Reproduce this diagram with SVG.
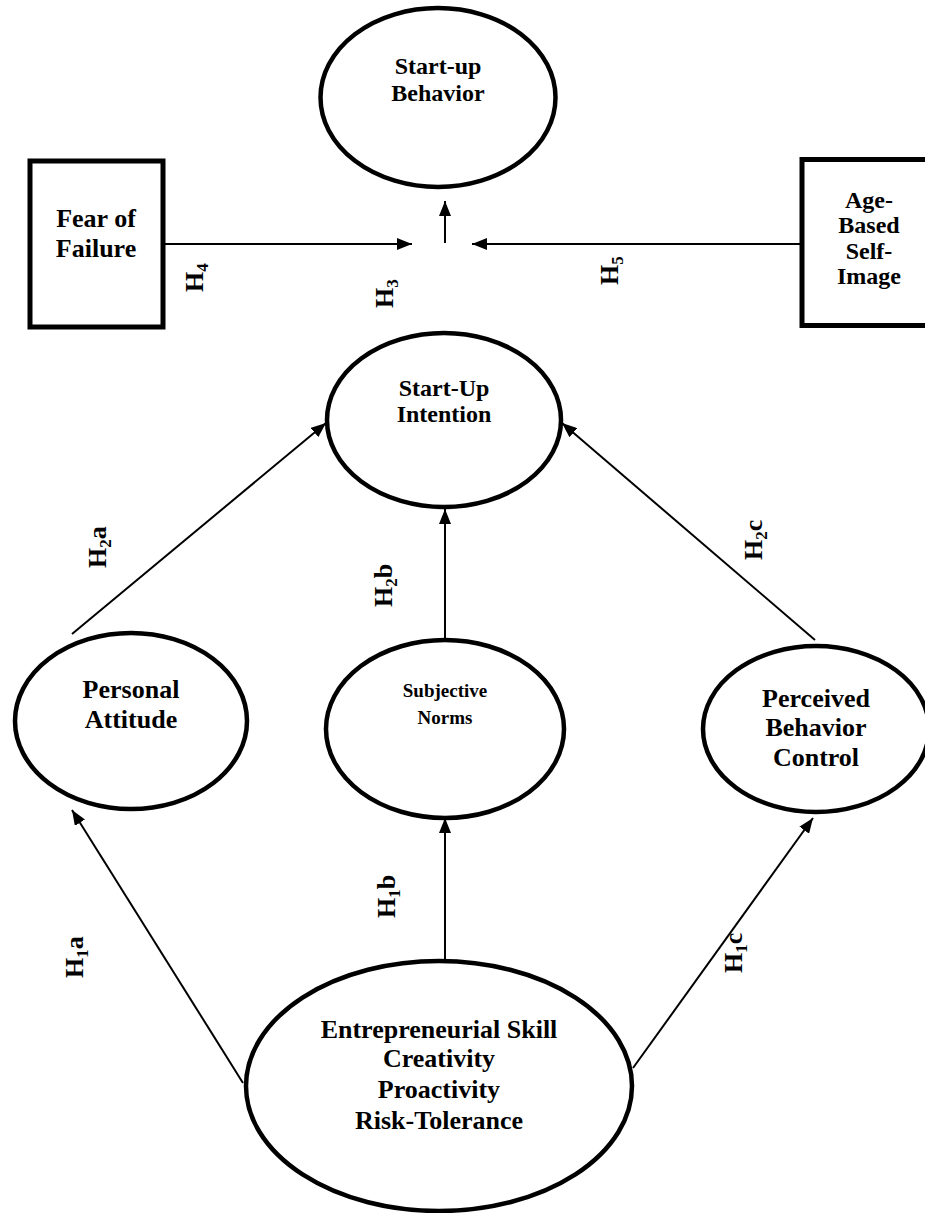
<svg xmlns="http://www.w3.org/2000/svg" width="925" height="1213" viewBox="0 0 925 1213">
<style>
.n{fill:#fff;stroke:#000;stroke-width:4.5}
.b{fill:#fff;stroke:#000;stroke-width:5}
.t{font-family:"Liberation Serif","Times New Roman",serif;font-weight:bold;fill:#000;text-anchor:middle}
.t24{font-size:24px}
.t26{font-size:26px}
.t19{font-size:19px}
.c{stroke:#000;stroke-width:2;fill:none;marker-end:url(#ah)}
.h{font-family:"Liberation Serif","Times New Roman",serif;font-weight:bold;font-size:26px;fill:#000}
.s{font-size:17px}
</style>
<defs>
<marker id="ah" markerUnits="userSpaceOnUse" markerWidth="15" markerHeight="12" refX="15" refY="6" orient="auto">
<path d="M0,0 L15,6 L0,12 z" fill="#000"/>
</marker>
</defs>
<rect width="925" height="1213" fill="#fff"/>
<g id="connectors">
<line class="c" x1="445" y1="243" x2="445" y2="201"/>
<line class="c" x1="165" y1="244" x2="412" y2="244"/>
<line class="c" x1="800" y1="244" x2="472" y2="244"/>
<line class="c" x1="72" y1="634" x2="326" y2="423"/>
<line class="c" x1="445" y1="640" x2="445" y2="509"/>
<line class="c" x1="815" y1="640" x2="562" y2="423"/>
<line class="c" x1="243" y1="1083" x2="72" y2="810"/>
<line class="c" x1="445" y1="961" x2="445" y2="818"/>
<line class="c" x1="633" y1="1068" x2="813" y2="818"/>
</g>
<g id="labels">
<text class="h" transform="translate(203,292) rotate(-90)">H<tspan class="s" dy="5">4</tspan></text>
<text class="h" transform="translate(393,308) rotate(-90)">H<tspan class="s" dy="5">3</tspan></text>
<text class="h" transform="translate(618,285) rotate(-90)">H<tspan class="s" dy="5">5</tspan></text>
<text class="h" transform="translate(106,568) rotate(-90)">H<tspan class="s" dy="5">2</tspan><tspan dy="-5">a</tspan></text>
<text class="h" transform="translate(392,607) rotate(-90)">H<tspan class="s" dy="5">2</tspan><tspan dy="-5">b</tspan></text>
<text class="h" transform="translate(762,560) rotate(-90)">H<tspan class="s" dy="5">2</tspan><tspan dy="-5">c</tspan></text>
<text class="h" transform="translate(83,978) rotate(-90)">H<tspan class="s" dy="5">1</tspan><tspan dy="-5">a</tspan></text>
<text class="h" transform="translate(395,918) rotate(-90)">H<tspan class="s" dy="5">1</tspan><tspan dy="-5">b</tspan></text>
<text class="h" transform="translate(742,973) rotate(-90)">H<tspan class="s" dy="5">1</tspan><tspan dy="-5">c</tspan></text>
</g>
<g id="startup-behavior">
<ellipse class="n" cx="438" cy="97.5" rx="117.5" ry="89.5"/>
<text class="t t24" x="438" y="74">Start-up</text>
<text class="t t24" x="438" y="101">Behavior</text>
</g>
<g id="fear-of-failure">
<rect class="b" x="30" y="161" width="133" height="166"/>
<text class="t t26" x="96" y="227">Fear of</text>
<text class="t t26" x="96" y="257">Failure</text>
</g>
<g id="age-based-self-image">
<rect class="b" x="802" y="159.5" width="134" height="166"/>
<text class="t t24" x="869" y="208">Age-</text>
<text class="t t24" x="869" y="233">Based</text>
<text class="t t24" x="869" y="258.5">Self-</text>
<text class="t t24" x="869" y="284">Image</text>
</g>
<g id="startup-intention">
<ellipse class="n" cx="444" cy="420" rx="117" ry="87"/>
<text class="t t24" x="444" y="396">Start-Up</text>
<text class="t t24" x="444" y="422">Intention</text>
</g>
<g id="personal-attitude">
<ellipse class="n" cx="131" cy="721" rx="116" ry="88"/>
<text class="t t26" x="131" y="698">Personal</text>
<text class="t t26" x="131" y="728">Attitude</text>
</g>
<g id="subjective-norms">
<ellipse class="n" cx="445" cy="729" rx="119" ry="89"/>
<text class="t t19" x="445" y="697">Subjective</text>
<text class="t t19" x="445" y="724">Norms</text>
</g>
<g id="perceived-behavior-control">
<ellipse class="n" cx="816" cy="729" rx="113" ry="83"/>
<text class="t t26" x="816" y="707">Perceived</text>
<text class="t t26" x="816" y="736">Behavior</text>
<text class="t t26" x="816" y="766">Control</text>
</g>
<g id="entrepreneurial-skill">
<ellipse class="n" cx="439" cy="1086" rx="193" ry="125"/>
<text class="t t26" x="439" y="1038">Entrepreneurial Skill</text>
<text class="t t26" x="439" y="1067">Creativity</text>
<text class="t t26" x="439" y="1098">Proactivity</text>
<text class="t t26" x="439" y="1129">Risk-Tolerance</text>
</g>
</svg>
